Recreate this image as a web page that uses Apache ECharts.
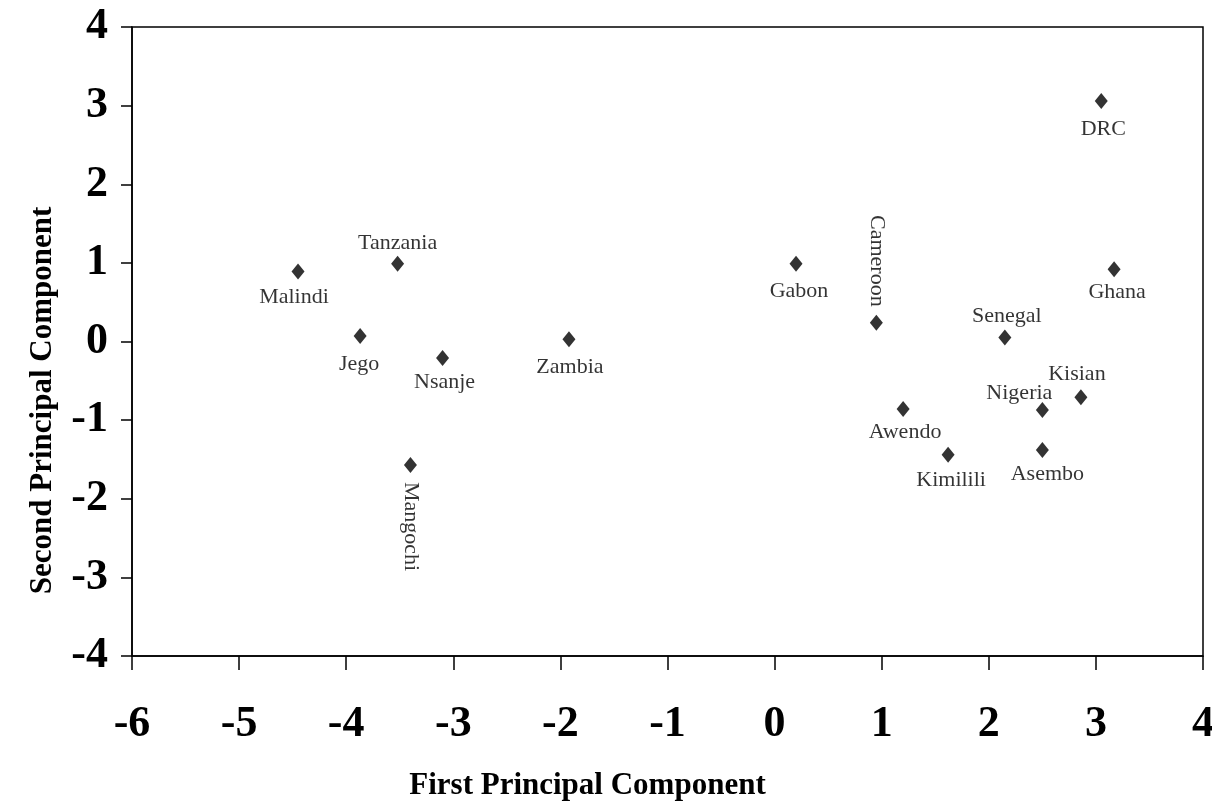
<!DOCTYPE html>
<html>
<head>
<meta charset="utf-8">
<script src="https://cdn.jsdelivr.net/npm/echarts@6/dist/echarts.min.js"></script>
<style>html,body{margin:0;padding:0;background:#fff}#c{width:1212px;height:804px}</style>
</head>
<body>
<div id="c"></div>
<script>
// ---- data ----
var sites = ['Malindi','Tanzania','Jego','Nsanje','Mangochi','Zambia','Gabon','Cameroon','DRC','Ghana','Senegal','Kisian','Nigeria','Awendo','Kimilili','Asembo'];
var pc1 = [-4.45, -3.52, -3.87, -3.10, -3.40, -1.92, 0.20, 0.95, 3.05, 3.17, 2.15, 2.86, 2.50, 1.20, 1.62, 2.50];
var pc2 = [0.89, 0.99, 0.07, -0.21, -1.57, 0.03, 0.99, 0.24, 3.06, 0.92, 0.05, -0.71, -0.87, -0.86, -1.44, -1.38];
var xTicks = [-6, -5, -4, -3, -2, -1, 0, 1, 2, 3, 4];
var yTicks = [-4, -3, -2, -1, 0, 1, 2, 3, 4];

// ---- label placement (styling, kept apart from data) ----
var labelPlace = {
  Malindi:  {position: 'bottom', offset: [-4, 3]},
  Tanzania: {position: 'top', offset: [0, 3]},
  Jego:     {position: 'bottom', offset: [-1, 5]},
  Nsanje:   {position: 'bottom', offset: [2, 1]},
  Mangochi: {position: 'bottom', rotate: -90, align: 'left', verticalAlign: 'middle', offset: [1, 0], distance: 8},
  Zambia:   {position: 'bottom', offset: [1, 5]},
  Gabon:    {position: 'bottom', offset: [3, 5]},
  Cameroon: {position: 'top', rotate: -90, align: 'right', verticalAlign: 'middle', offset: [2, 0], distance: 10},
  DRC:      {position: 'bottom', offset: [2, 5]},
  Ghana:    {position: 'bottom', offset: [3, 0]},
  Senegal:  {position: 'top', offset: [2, 2]},
  Kisian:   {position: 'top', offset: [-4, 0]},
  Nigeria:  {position: 'top', offset: [-23, 6]},
  Awendo:   {position: 'bottom', offset: [2, 0]},
  Kimilili: {position: 'bottom', offset: [3, 2]},
  Asembo:   {position: 'bottom', offset: [5, 1]}
};

var serif = '"Liberation Serif","Times New Roman",Times,serif';

var points = sites.map(function (n, i) {
  var lp = labelPlace[n];
  var lab = {show: true, position: lp.position, offset: lp.offset, distance: lp.distance || 4};
  if (lp.rotate) { lab.rotate = lp.rotate; lab.align = lp.align; lab.verticalAlign = lp.verticalAlign; }
  return {name: n, value: [pc1[i], pc2[i]], label: lab};
});

var chart = echarts.init(document.getElementById('c'), null, {renderer: 'canvas'});
chart.setOption({
  animation: false,
  backgroundColor: '#ffffff',
  grid: {left: 132, right: 9, top: 27, bottom: 148, containLabel: false, outerBoundsMode: 'none',
         show: true, borderColor: '#000', borderWidth: 1.5, backgroundColor: 'transparent'},
  xAxis: {
    type: 'value', min: xTicks[0], max: xTicks[xTicks.length - 1], interval: 1,
    name: 'First Principal Component', nameLocation: 'middle', nameGap: 114,
    nameTextStyle: {fontFamily: serif, fontWeight: 'bold', fontSize: 31, color: '#000', padding: [0, 160, 0, 0]},
    axisLine: {show: true, onZero: false, lineStyle: {color: '#000', width: 1.5}},
    axisTick: {show: true, inside: false, length: 14, lineStyle: {color: '#000', width: 1.5}},
    axisLabel: {fontFamily: serif, fontWeight: 'bold', fontSize: 44, color: '#000', margin: 47},
    splitLine: {show: false}
  },
  yAxis: {
    type: 'value', min: yTicks[0], max: yTicks[yTicks.length - 1], interval: 1,
    name: 'Second Principal Component', nameLocation: 'middle', nameGap: 74,
    nameTextStyle: {fontFamily: serif, fontWeight: 'bold', fontSize: 31, color: '#000', padding: [0, 118, 0, 0]},
    axisLine: {show: true, onZero: false, lineStyle: {color: '#000', width: 1.5}},
    axisTick: {show: true, inside: false, length: 11, lineStyle: {color: '#000', width: 1.5}},
    axisLabel: {fontFamily: serif, fontWeight: 'bold', fontSize: 44, color: '#000', margin: 24},
    splitLine: {show: false}
  },
  series: [{
    type: 'scatter',
    symbol: 'diamond',
    symbolSize: [13, 16],
    itemStyle: {color: '#000'},
    label: {formatter: '{b}', fontFamily: serif, fontSize: 22, color: '#000'},
    data: points
  }]
});
</script>
</body>
</html>
